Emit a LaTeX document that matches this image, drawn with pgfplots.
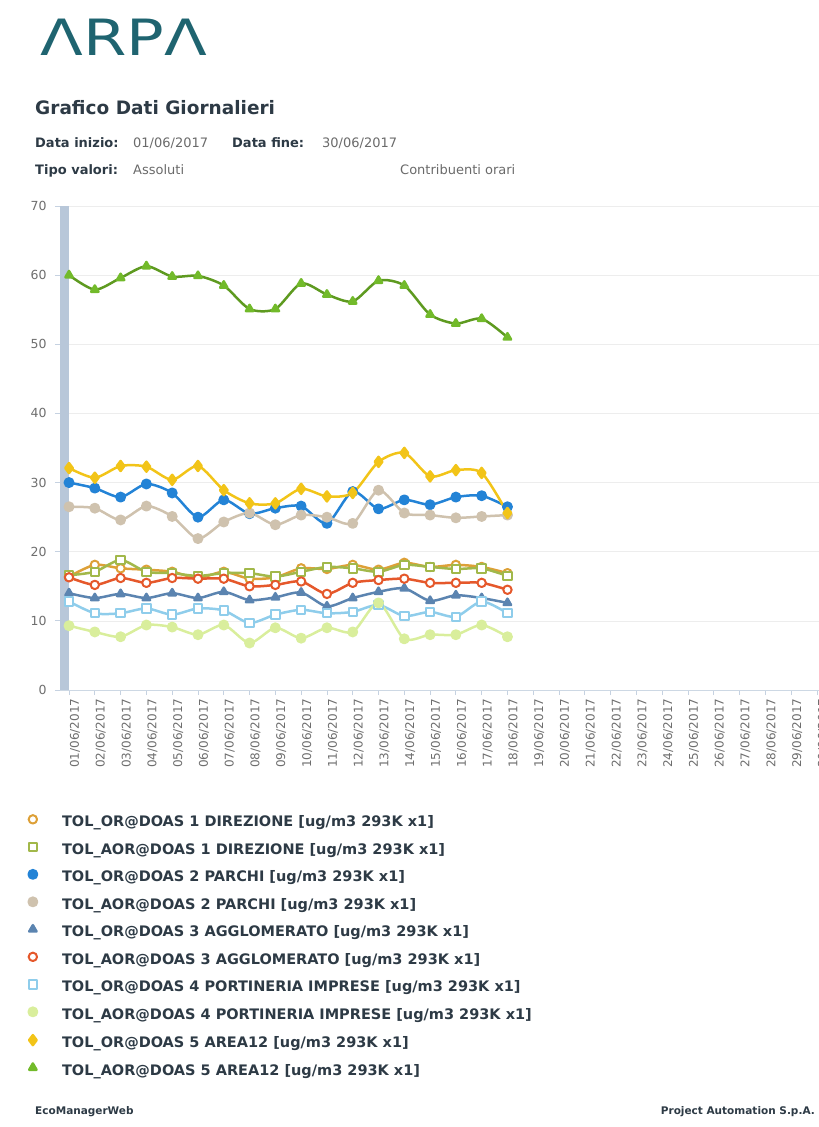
\documentclass[border=0pt]{standalone}
\usepackage{pgfplots}
\pgfplotsset{compat=1.18}
\usepackage{pgfplotstable}
\usepackage{fontspec}
\setmainfont{DejaVu Sans}

\definecolor{logo}{HTML}{1F6470}
\definecolor{head}{HTML}{2D3A45}
\definecolor{val}{HTML}{6A6A6A}
\definecolor{tick}{HTML}{6E6E6E}
\definecolor{bar}{HTML}{B8C7D9}
\definecolor{cA}{HTML}{DDA037}
\definecolor{cB}{HTML}{A2B84A}
\definecolor{cC}{HTML}{2383D6}
\definecolor{cD}{HTML}{CFC2AE}
\definecolor{cE}{HTML}{5B84B0}
\definecolor{cF}{HTML}{E5582B}
\definecolor{cG}{HTML}{8FCDEB}
\definecolor{cH}{HTML}{D9EE9C}
\definecolor{cI}{HTML}{F2C418}
\definecolor{cJ}{HTML}{5E9A20}
\definecolor{cJm}{HTML}{72BA2A}

% day, then the ten series in legend order
\pgfplotstableread{
day s1   s2   s3   s4   s5   s6   s7   s8   s9   s10
1   16.4 16.6 30.0 26.5 14.0 16.3 12.8 9.3  32.1 60.0
2   18.1 17.1 29.2 26.3 13.3 15.2 11.1 8.4  30.7 57.9
3   17.6 18.8 27.9 24.6 13.9 16.2 11.1 7.7  32.4 59.6
4   17.4 17.1 29.8 26.6 13.3 15.5 11.8 9.4  32.3 61.3
5   17.1 16.9 28.5 25.1 14.0 16.2 10.9 9.1  30.4 59.8
6   16.2 16.5 25.0 21.9 13.3 16.1 11.8 8.0  32.4 59.9
7   17.1 16.9 27.5 24.3 14.2 16.1 11.5 9.4  28.9 58.5
8   16.1 16.9 25.5 25.6 13.0 15.0 9.7  6.8  27.0 55.1
9   16.3 16.4 26.3 23.9 13.4 15.2 10.9 9.0  27.0 55.1
10  17.6 17.1 26.6 25.3 14.1 15.7 11.6 7.5  29.1 58.8
11  17.5 17.8 24.1 25.0 12.1 13.9 11.1 9.0  28.0 57.2
12  18.1 17.6 28.7 24.1 13.3 15.5 11.3 8.4  28.5 56.2
13  17.4 17.1 26.2 28.9 14.2 15.9 12.3 12.6 33.0 59.2
14  18.4 18.1 27.5 25.6 14.7 16.1 10.7 7.4  34.3 58.5
15  17.8 17.8 26.8 25.3 12.9 15.5 11.3 8.0  30.9 54.3
16  18.1 17.5 27.9 24.9 13.7 15.5 10.6 8.0  31.8 53.0
17  17.8 17.6 28.1 25.1 13.3 15.5 12.8 9.4  31.4 53.7
18  16.9 16.5 26.5 25.3 12.6 14.5 11.1 7.7  25.6 51.0
}\data

\begin{document}
\begin{tikzpicture}[x=1pt,y=1pt]
\useasboundingbox (0,0) rectangle (819,-1127);

% header
\node[anchor=base west, inner sep=0, text=logo, xscale=1.25,
      font=\fontsize{50}{50}\selectfont] at (40,-55) {ΛRPΛ};
\node[anchor=base west, inner sep=0, text=head,
      font=\fontsize{18.5}{21}\selectfont\bfseries] at (35,-114) {Grafico Dati Giornalieri};
\begin{scope}[every node/.style={anchor=base west, inner sep=0,
      font=\fontsize{13}{15}\selectfont}]
\node[text=head, font=\fontsize{13}{15}\selectfont\bfseries] at (35,-147) {Data inizio:};
\node[text=val] at (133,-147) {01/06/2017};
\node[text=head, font=\fontsize{13}{15}\selectfont\bfseries] at (232,-147) {Data fine:};
\node[text=val] at (322,-147) {30/06/2017};
\node[text=head, font=\fontsize{13}{15}\selectfont\bfseries] at (35,-174) {Tipo valori:};
\node[text=val] at (133,-174) {Assoluti};
\node[text=val] at (400,-174) {Contribuenti orari};
\end{scope}

% footer
\node[anchor=base west, inner sep=0, text=head,
      font=\fontsize{10.5}{12}\selectfont\bfseries] at (35,-1114) {EcoManagerWeb};
\node[anchor=base east, inner sep=0, text=head,
      font=\fontsize{10.5}{12}\selectfont\bfseries] at (815,-1114) {Project Automation S.p.A.};

\begin{axis}[
  at={(60pt,-690pt)}, anchor=south west,
  scale only axis, width=759pt, height=484pt,
  xmin=0.65, xmax=30.08, ymin=0, ymax=70,
  axis x line*=bottom, axis y line*=left,
  x axis line style={draw=bar!70, line width=0.8pt},
  y axis line style={draw=none},
  tick align=outside, major tick length=5pt,
  tick style={draw=bar!80, line width=0.8pt},
  ytick={0,10,...,70},
  xtick={1,...,30},
  xticklabels={01/06/2017,02/06/2017,03/06/2017,04/06/2017,05/06/2017,06/06/2017,
    07/06/2017,08/06/2017,09/06/2017,10/06/2017,11/06/2017,12/06/2017,13/06/2017,
    14/06/2017,15/06/2017,16/06/2017,17/06/2017,18/06/2017,19/06/2017,20/06/2017,
    21/06/2017,22/06/2017,23/06/2017,24/06/2017,25/06/2017,26/06/2017,27/06/2017,
    28/06/2017,29/06/2017,30/06/2017},
  xticklabel style={rotate=90, anchor=east, yshift=-6pt, text=tick,
    font=\fontsize{12}{14}\selectfont},
  yticklabel style={text=tick, xshift=-5pt, font=\fontsize{12.5}{14}\selectfont},
  /pgf/number format/assume math mode=true,
  ymajorgrids, grid style={draw=black!7, line width=0.6pt},
  every axis plot/.append style={smooth, tension=0.45, line width=2.5pt,
    mark size=4.2pt, line join=round},
  legend image code/.code={\draw[#1, only marks] plot coordinates {(0pt,4pt)};},
  legend cell align=left,
  legend style={at={(-0.0455,-0.254)}, anchor=north west, draw=none, fill=none,
    font=\fontsize{14.5}{16}\selectfont\bfseries, text=head,
    row sep=12.8pt, column sep=25pt,
    nodes={inner sep=0pt, text height=10pt, text depth=3pt}},
]
\fill[bar] (axis cs:0.65,0) rectangle (axis cs:1.0,70);

\addplot[cA, mark=*, mark options={fill=white, line width=2pt}] table[x=day, y=s1] {\data};
\addlegendentry{TOL\_OR@DOAS 1 DIREZIONE [ug/m3 293K x1]}
\addplot[cB, mark=square*, mark options={fill=white, line width=2pt}] table[x=day, y=s2] {\data};
\addlegendentry{TOL\_AOR@DOAS 1 DIREZIONE [ug/m3 293K x1]}
\addplot[cC, mark=*, mark options={fill=cC}] table[x=day, y=s3] {\data};
\addlegendentry{TOL\_OR@DOAS 2 PARCHI [ug/m3 293K x1]}
\addplot[cD, mark=*, mark options={fill=cD}] table[x=day, y=s4] {\data};
\addlegendentry{TOL\_AOR@DOAS 2 PARCHI [ug/m3 293K x1]}
\addplot[cE, mark=triangle*, mark options={fill=cE}] table[x=day, y=s5] {\data};
\addlegendentry{TOL\_OR@DOAS 3 AGGLOMERATO [ug/m3 293K x1]}
\addplot[cF, mark=*, mark options={fill=white, line width=2pt}] table[x=day, y=s6] {\data};
\addlegendentry{TOL\_AOR@DOAS 3 AGGLOMERATO [ug/m3 293K x1]}
\addplot[cG, mark=square*, mark options={fill=white, line width=2pt}] table[x=day, y=s7] {\data};
\addlegendentry{TOL\_OR@DOAS 4 PORTINERIA IMPRESE [ug/m3 293K x1]}
\addplot[cH, mark=*, mark options={fill=cH}] table[x=day, y=s8] {\data};
\addlegendentry{TOL\_AOR@DOAS 4 PORTINERIA IMPRESE [ug/m3 293K x1]}
\addplot[cI, mark=diamond*, mark options={fill=cI}, mark size=5pt] table[x=day, y=s9] {\data};
\addlegendentry{TOL\_OR@DOAS 5 AREA12 [ug/m3 293K x1]}
\addplot[cJ, mark=triangle*, mark options={fill=cJm, draw=cJm}] table[x=day, y=s10] {\data};
\addlegendentry{TOL\_AOR@DOAS 5 AREA12 [ug/m3 293K x1]}
\end{axis}
\end{tikzpicture}
\end{document}
